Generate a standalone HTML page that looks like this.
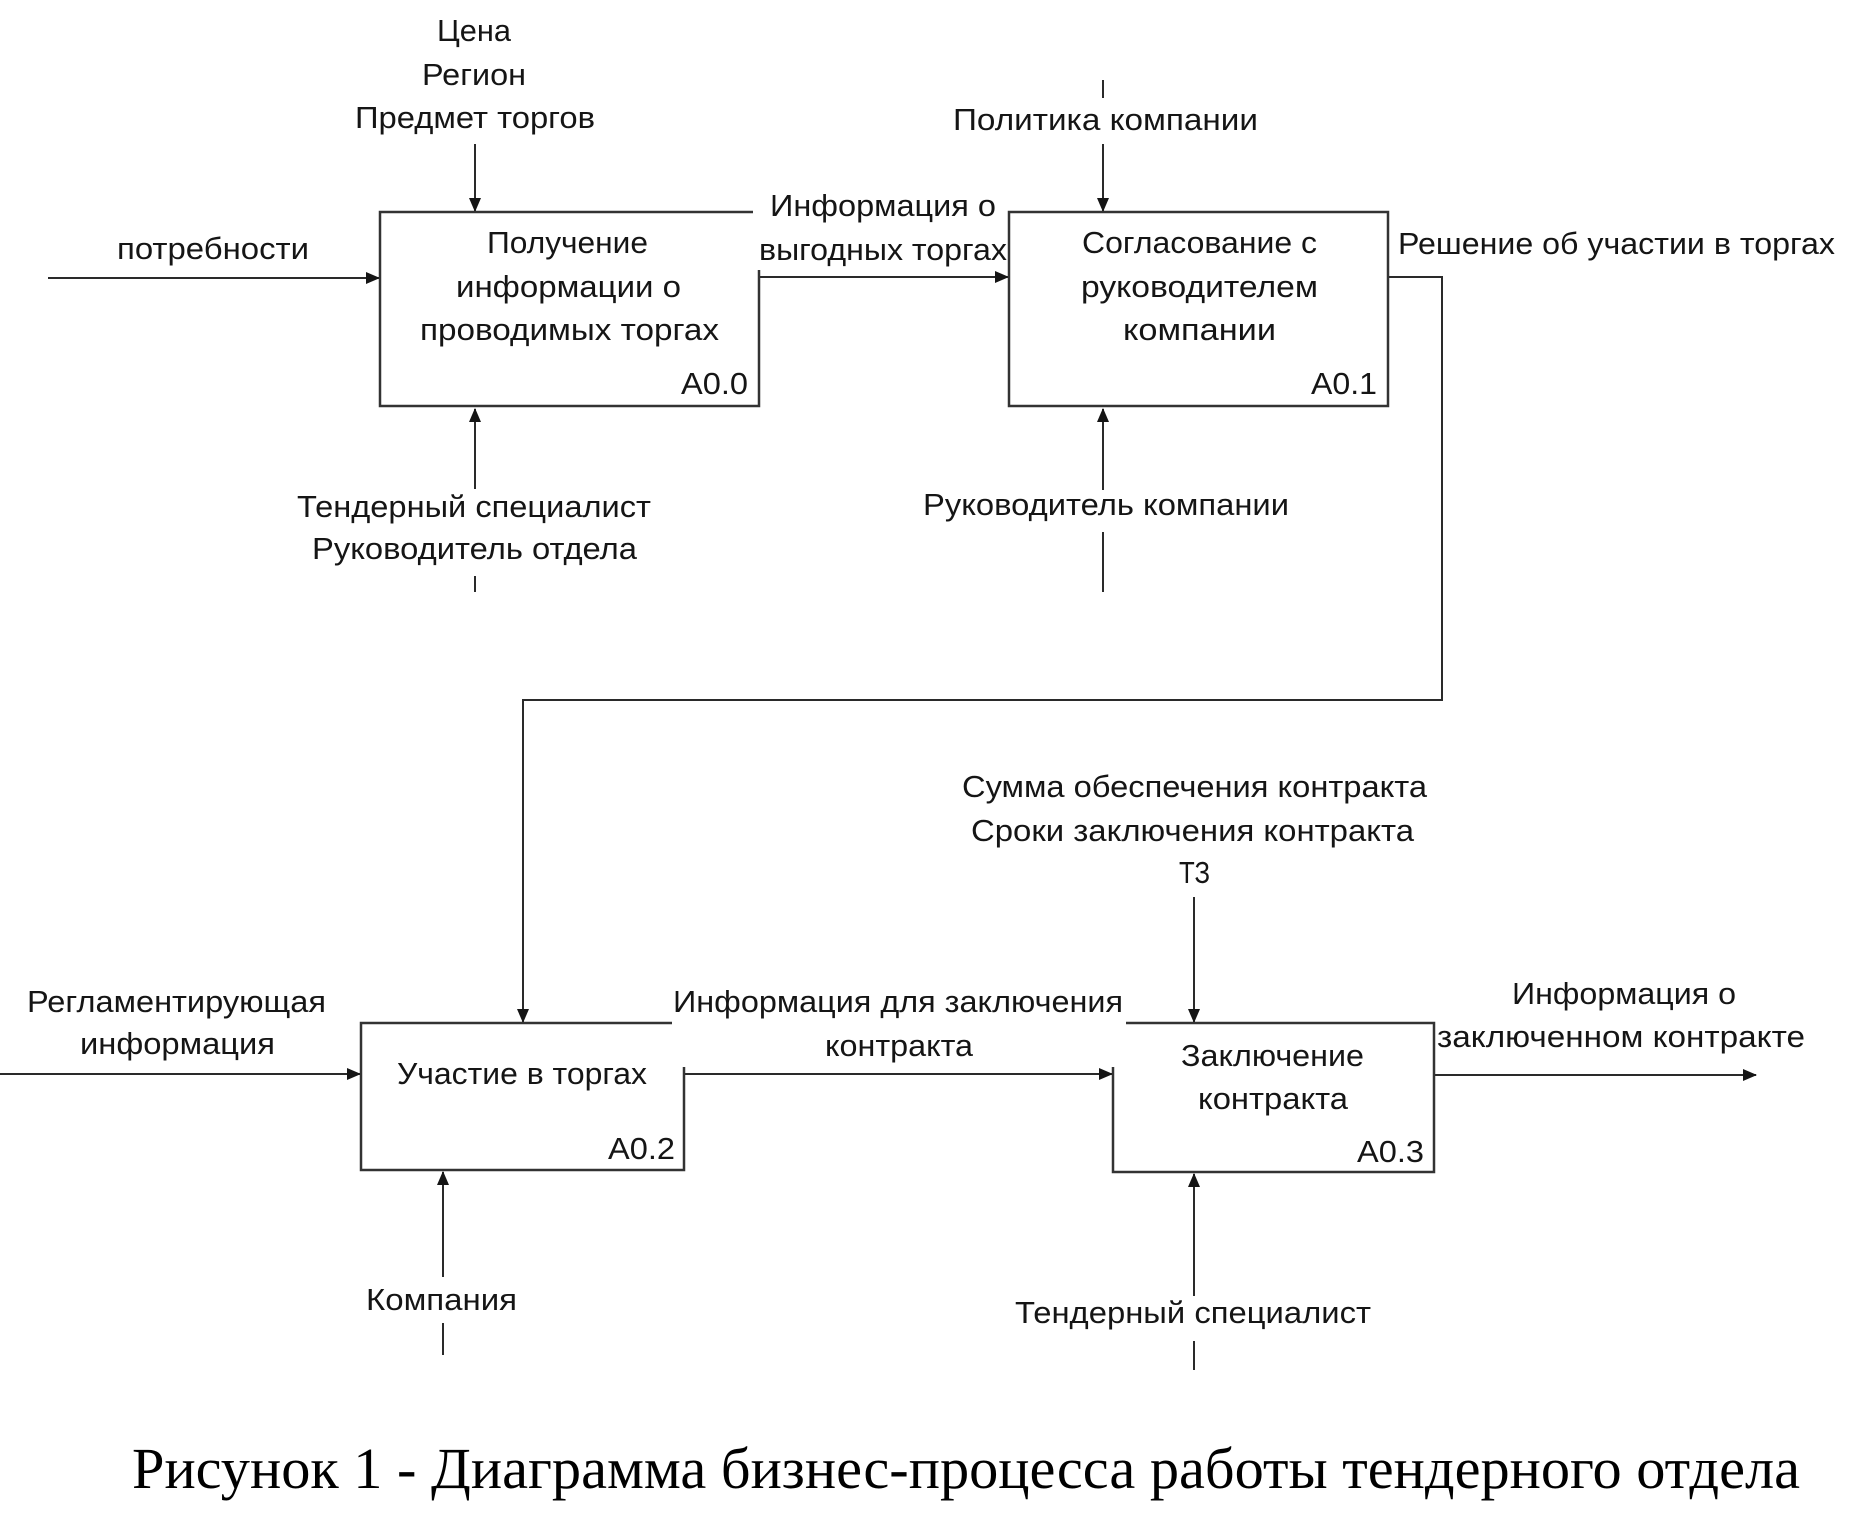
<!DOCTYPE html>
<html><head><meta charset="utf-8"><style>
html,body{margin:0;padding:0;background:#fff;}
svg{display:block;}
.t{font-family:"Liberation Sans","DejaVu Sans",sans-serif;font-size:31px;fill:#151515;}
.c{font-family:"Liberation Serif","DejaVu Serif",serif;font-size:58px;fill:#000;}
</style></head><body>
<svg width="1865" height="1537" viewBox="0 0 1865 1537" xmlns="http://www.w3.org/2000/svg">
<defs>
<marker id="ah" markerWidth="14" markerHeight="12" refX="13" refY="6" orient="auto" markerUnits="userSpaceOnUse">
<path d="M0,0 L14,6 L0,12 Z" fill="#151515"/>
</marker>
</defs>
<rect width="1865" height="1537" fill="#fff"/>
<g stroke="#2a2a2a" stroke-width="2" fill="none">
<line x1="475" y1="144" x2="475" y2="211" marker-end="url(#ah)"/>
<line x1="48" y1="278" x2="379" y2="278" marker-end="url(#ah)"/>
<line x1="759" y1="277" x2="1008" y2="277" marker-end="url(#ah)"/>
<line x1="475" y1="489" x2="475" y2="409" marker-end="url(#ah)"/>
<line x1="475" y1="576" x2="475" y2="592"/>
<line x1="1103" y1="80" x2="1103" y2="98"/>
<line x1="1103" y1="144" x2="1103" y2="211" marker-end="url(#ah)"/>
<line x1="1103" y1="490" x2="1103" y2="409" marker-end="url(#ah)"/>
<line x1="1103" y1="532" x2="1103" y2="592"/>
<polyline points="1388,277 1442,277 1442,700 523,700 523,1022" marker-end="url(#ah)"/>
<line x1="0" y1="1074" x2="360" y2="1074" marker-end="url(#ah)"/>
<line x1="684" y1="1074" x2="1112" y2="1074" marker-end="url(#ah)"/>
<line x1="1194" y1="897" x2="1194" y2="1022" marker-end="url(#ah)"/>
<line x1="443" y1="1277" x2="443" y2="1172" marker-end="url(#ah)"/>
<line x1="443" y1="1323" x2="443" y2="1355"/>
<line x1="1194" y1="1296" x2="1194" y2="1174" marker-end="url(#ah)"/>
<line x1="1194" y1="1341" x2="1194" y2="1370"/>
<line x1="1434" y1="1075" x2="1756" y2="1075" marker-end="url(#ah)"/>
</g>
<g stroke="#333" stroke-width="2.5" fill="none">
<rect x="380" y="212" width="379" height="194"/>
<rect x="1009" y="212" width="379" height="194"/>
<rect x="361" y="1023" width="323" height="147"/>
<rect x="1113" y="1023" width="321" height="149"/>
</g>
<rect x="753" y="188" width="253" height="82" fill="#fff"/>
<rect x="672" y="985" width="454" height="82" fill="#fff"/>
<g class="t" transform="translate(0,-1)">
<text x="437" y="42" textLength="74" lengthAdjust="spacingAndGlyphs">Цена</text>
<text x="422" y="86" textLength="104" lengthAdjust="spacingAndGlyphs">Регион</text>
<text x="355" y="129" textLength="240" lengthAdjust="spacingAndGlyphs">Предмет торгов</text>
<text x="117" y="260" textLength="192" lengthAdjust="spacingAndGlyphs">потребности</text>
<text x="487" y="254" textLength="161" lengthAdjust="spacingAndGlyphs">Получение</text>
<text x="456" y="298" textLength="225" lengthAdjust="spacingAndGlyphs">информации о</text>
<text x="420" y="341" textLength="299" lengthAdjust="spacingAndGlyphs">проводимых торгах</text>
<text x="681" y="395" textLength="67" lengthAdjust="spacingAndGlyphs">A0.0</text>
<text x="770" y="217" textLength="226" lengthAdjust="spacingAndGlyphs">Информация о</text>
<text x="759" y="261" textLength="248" lengthAdjust="spacingAndGlyphs">выгодных торгах</text>
<text x="953" y="131" textLength="305" lengthAdjust="spacingAndGlyphs">Политика компании</text>
<text x="1082" y="254" textLength="235" lengthAdjust="spacingAndGlyphs">Согласование с</text>
<text x="1081" y="298" textLength="237" lengthAdjust="spacingAndGlyphs">руководителем</text>
<text x="1123" y="341" textLength="153" lengthAdjust="spacingAndGlyphs">компании</text>
<text x="1311" y="395" textLength="66" lengthAdjust="spacingAndGlyphs">A0.1</text>
<text x="1398" y="255" textLength="437" lengthAdjust="spacingAndGlyphs">Решение об участии в торгах</text>
<text x="297" y="518" textLength="354" lengthAdjust="spacingAndGlyphs">Тендерный специалист</text>
<text x="312" y="560" textLength="325" lengthAdjust="spacingAndGlyphs">Руководитель отдела</text>
<text x="923" y="516" textLength="366" lengthAdjust="spacingAndGlyphs">Руководитель компании</text>
<text x="27" y="1013" textLength="299" lengthAdjust="spacingAndGlyphs">Регламентирующая</text>
<text x="80" y="1055" textLength="195" lengthAdjust="spacingAndGlyphs">информация</text>
<text x="397" y="1085" textLength="250" lengthAdjust="spacingAndGlyphs">Участие в торгах</text>
<text x="608" y="1160" textLength="67" lengthAdjust="spacingAndGlyphs">A0.2</text>
<text x="366" y="1311" textLength="151" lengthAdjust="spacingAndGlyphs">Компания</text>
<text x="673" y="1013" textLength="450" lengthAdjust="spacingAndGlyphs">Информация для заключения</text>
<text x="825" y="1057" textLength="148" lengthAdjust="spacingAndGlyphs">контракта</text>
<text x="962" y="798" textLength="465" lengthAdjust="spacingAndGlyphs">Сумма обеспечения контракта</text>
<text x="971" y="842" textLength="443" lengthAdjust="spacingAndGlyphs">Сроки заключения контракта</text>
<text x="1179" y="884" textLength="31" lengthAdjust="spacingAndGlyphs">ТЗ</text>
<text x="1181" y="1067" textLength="183" lengthAdjust="spacingAndGlyphs">Заключение</text>
<text x="1198" y="1110" textLength="150" lengthAdjust="spacingAndGlyphs">контракта</text>
<text x="1357" y="1163" textLength="67" lengthAdjust="spacingAndGlyphs">A0.3</text>
<text x="1512" y="1005" textLength="224" lengthAdjust="spacingAndGlyphs">Информация о</text>
<text x="1437" y="1048" textLength="368" lengthAdjust="spacingAndGlyphs">заключенном контракте</text>
<text x="1015" y="1324" textLength="356" lengthAdjust="spacingAndGlyphs">Тендерный специалист</text>
</g>
<text class="c" x="132" y="1488" textLength="1668" lengthAdjust="spacingAndGlyphs">Рисунок 1 - Диаграмма бизнес-процесса работы тендерного отдела</text>
</svg>
</body></html>
